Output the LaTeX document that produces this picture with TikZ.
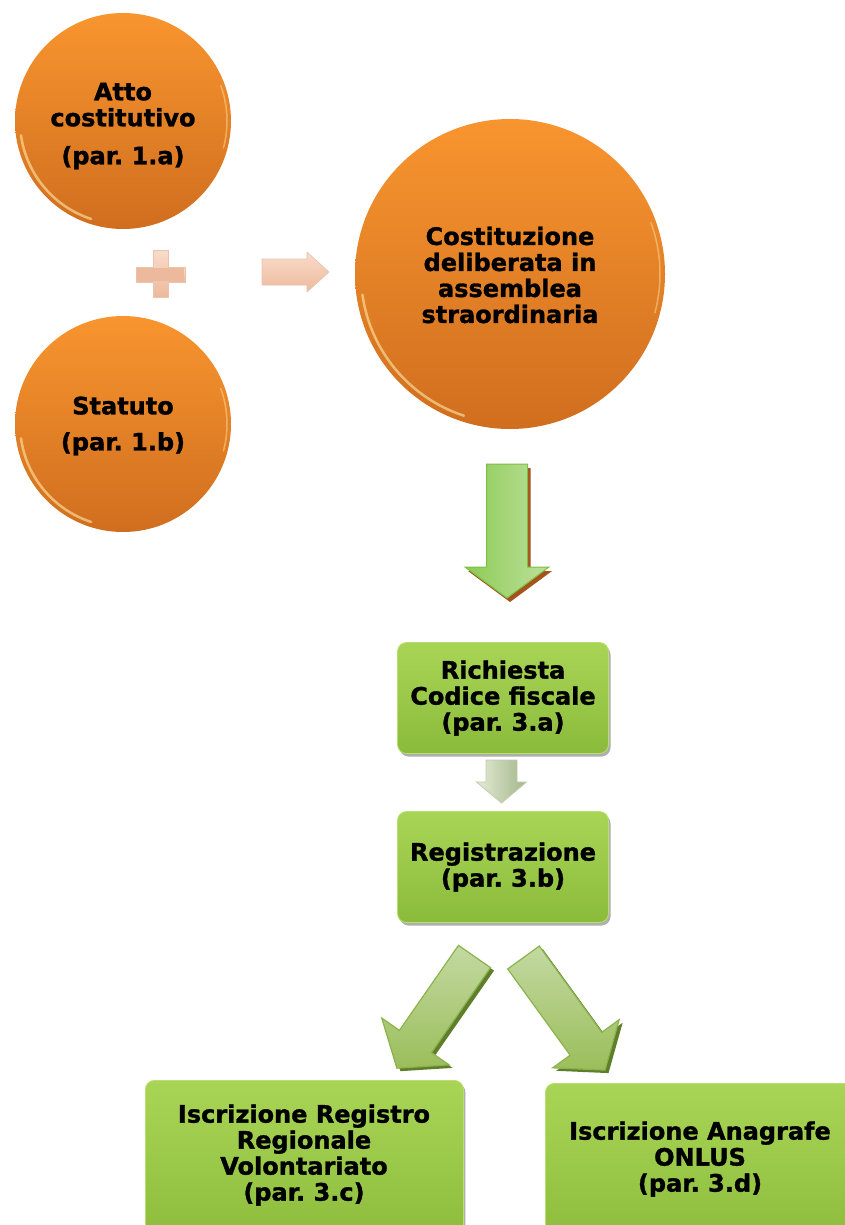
\documentclass[tikz,border=0pt]{standalone}
\usepackage{fontspec}
\setmainfont{DejaVu Sans}[BoldFeatures={FakeBold=1.2}]
\usetikzlibrary{shadows}
\definecolor{orTop}{HTML}{F8952F}
\definecolor{orBot}{HTML}{D06E1F}
\definecolor{rimLight}{HTML}{FFE9A8}
\definecolor{grTop}{HTML}{A9D556}
\definecolor{grBot}{HTML}{8BBB3B}
\definecolor{grEdge}{HTML}{B9E06E}
\definecolor{arGreenA}{HTML}{8DCB55}
\definecolor{arGreenB}{HTML}{BDE09C}
\definecolor{arGreenEdge}{HTML}{7CC044}
\definecolor{arBrown}{HTML}{A5521C}
\definecolor{diagA}{HTML}{9BBE5A}
\definecolor{diagB}{HTML}{C3D9A2}
\definecolor{diagEdge}{HTML}{8CB24E}
\definecolor{diagShadow}{HTML}{5F7E2B}
\definecolor{smallA}{HTML}{E4EBD6}
\definecolor{smallB}{HTML}{A3B68A}
\definecolor{smallEdge}{HTML}{BFCCA9}
\definecolor{peach}{HTML}{EDB99C}
\definecolor{peachLight}{HTML}{F9DCCB}
\definecolor{peachDark}{HTML}{D99B7C}
\newcommand\arrowpoly[4]{(0,-#2) -- (#1-#4,-#2) -- (#1-#4,-#3) -- (#1,0) -- (#1-#4,#3) -- (#1-#4,#2) -- (0,#2) -- cycle}
\tikzset{
  txt/.style={font=\frenchspacing\bfseries\fontsize{24}{26}\selectfont},
  circ/.style={circle, minimum size=#1, inner sep=0pt, top color=orTop, bottom color=orBot,
    draw=none, align=center, text=black, txt},
  gbox/.style={rectangle, rounded corners=9pt, top color=grTop, bottom color=grBot,
    draw=grEdge, line width=0.8pt, align=center, text=black,
    drop shadow={shadow xshift=2pt, shadow yshift=-3pt, opacity=0.45, fill=black!70}, txt},
  rim/.style={draw=rimLight, line width=2.5pt, opacity=0.6, line cap=round},
  bigarrow/.style={left color=arGreenA, right color=arGreenB, draw=arGreenEdge, line width=1pt},
  bigshadow/.style={fill=arBrown, draw=none},
  diagarrow/.style={top color=diagB, bottom color=diagA, shading angle=0, draw=diagEdge, line width=1.2pt},
  diagshadow/.style={fill=diagShadow, draw=none},
  smallarrow/.style={left color=smallA, right color=smallB, draw=smallEdge, line width=0.8pt},
  peachshape/.style={top color=peachLight, bottom color=peach, draw=peachDark!60, line width=0.6pt},
}
\begin{document}
\begin{tikzpicture}[x=1pt, y=-1pt]
\useasboundingbox (0,0) rectangle (845,1225);
\begin{scope}
\clip (0,0) rectangle (845,1225);

% circles
\node[circ=216] (atto) at (123,121) {};
\node[circ=216] (statuto) at (123,424) {};
\node[circ=310] (cost) at (510,274) {};
\node[txt, align=center] (attot) at (123,126) {Atto\\costitutivo\\[12pt](par. 1.a)};
\node[txt, align=center] (statutot) at (123,426) {Statuto\\[10pt](par. 1.b)};
\node[txt, align=center] (costt) at (510,275) {Costituzione\\deliberata in\\assemblea\\straordinaria};
\draw[rim] (atto.center) ++(172:103) arc[start angle=172, end angle=108, radius=103];
\draw[rim] (statuto.center) ++(172:103) arc[start angle=172, end angle=108, radius=103];
\draw[rim] (cost.center) ++(172:149) arc[start angle=172, end angle=108, radius=149];
\draw[rim, line width=1.5pt, opacity=0.45] (atto.center) ++(-20:104) arc[start angle=-20, end angle=15, radius=104];
\draw[rim, line width=1.5pt, opacity=0.45] (statuto.center) ++(-20:104) arc[start angle=-20, end angle=15, radius=104];
\draw[rim, line width=1.5pt, opacity=0.45] (cost.center) ++(-20:150) arc[start angle=-20, end angle=15, radius=150];

% plus sign
\path[peachshape] (136,267) rectangle (185,282);
\path[peachshape] (153,250) rectangle (168,297);
\path[fill=peach] (137,268) rectangle (184,281);

% right arrow
\begin{scope}[shift={(262,272)}]
\path[peachshape] \arrowpoly{67}{13}{20}{22};
\end{scope}

% green boxes
\node[gbox, minimum width=211, minimum height=111] (rich) at (503,698) {Richiesta\\Codice fiscale\\(par. 3.a)};
\node[gbox, minimum width=211, minimum height=111] (reg) at (503,867) {Registrazione\\(par. 3.b)};
\node[gbox, minimum width=318, minimum height=170, anchor=north west] (iscr) at (145,1080) {};
\node[gbox, minimum width=330, minimum height=170, anchor=north west] (onlus) at (545,1083) {};
\node[txt, align=center] (iscrt) at (304,1155) {Iscrizione Registro\\Regionale\\Volontariato\\(par. 3.c)};
\node[txt, align=center] (onlust) at (700,1159) {Iscrizione Anagrafe\\ONLUS\\(par. 3.d)};

% big down arrow
\begin{scope}[shift={(510,468)}, rotate=-90]
\path[bigshadow] \arrowpoly{134}{20.5}{42}{31};
\end{scope}
\begin{scope}[shift={(507,464)}, rotate=-90]
\path[bigarrow] \arrowpoly{134}{20.5}{42}{31};
\end{scope}

% small down arrow
\begin{scope}[shift={(501.5,760)}, rotate=-90]
\path[smallarrow] \arrowpoly{43}{15.5}{25}{21};
\end{scope}

% diagonal arrows
\begin{scope}[shift={(478,959.5)}, rotate=235.2]
\path[diagshadow] \arrowpoly{136}{19.5}{41}{32.5};
\end{scope}
\begin{scope}[shift={(474.5,956.5)}, rotate=235.2]
\path[diagarrow] \arrowpoly{136}{19.5}{41}{32.5};
\end{scope}
\begin{scope}[shift={(527,960.5)}, rotate=-54.1]
\path[diagshadow] \arrowpoly{139}{19.5}{41}{32.5};
\end{scope}
\begin{scope}[shift={(523.5,957.5)}, rotate=-54.1]
\path[diagarrow] \arrowpoly{139}{19.5}{41}{32.5};
\end{scope}
\end{scope}
\end{tikzpicture}
\end{document}
